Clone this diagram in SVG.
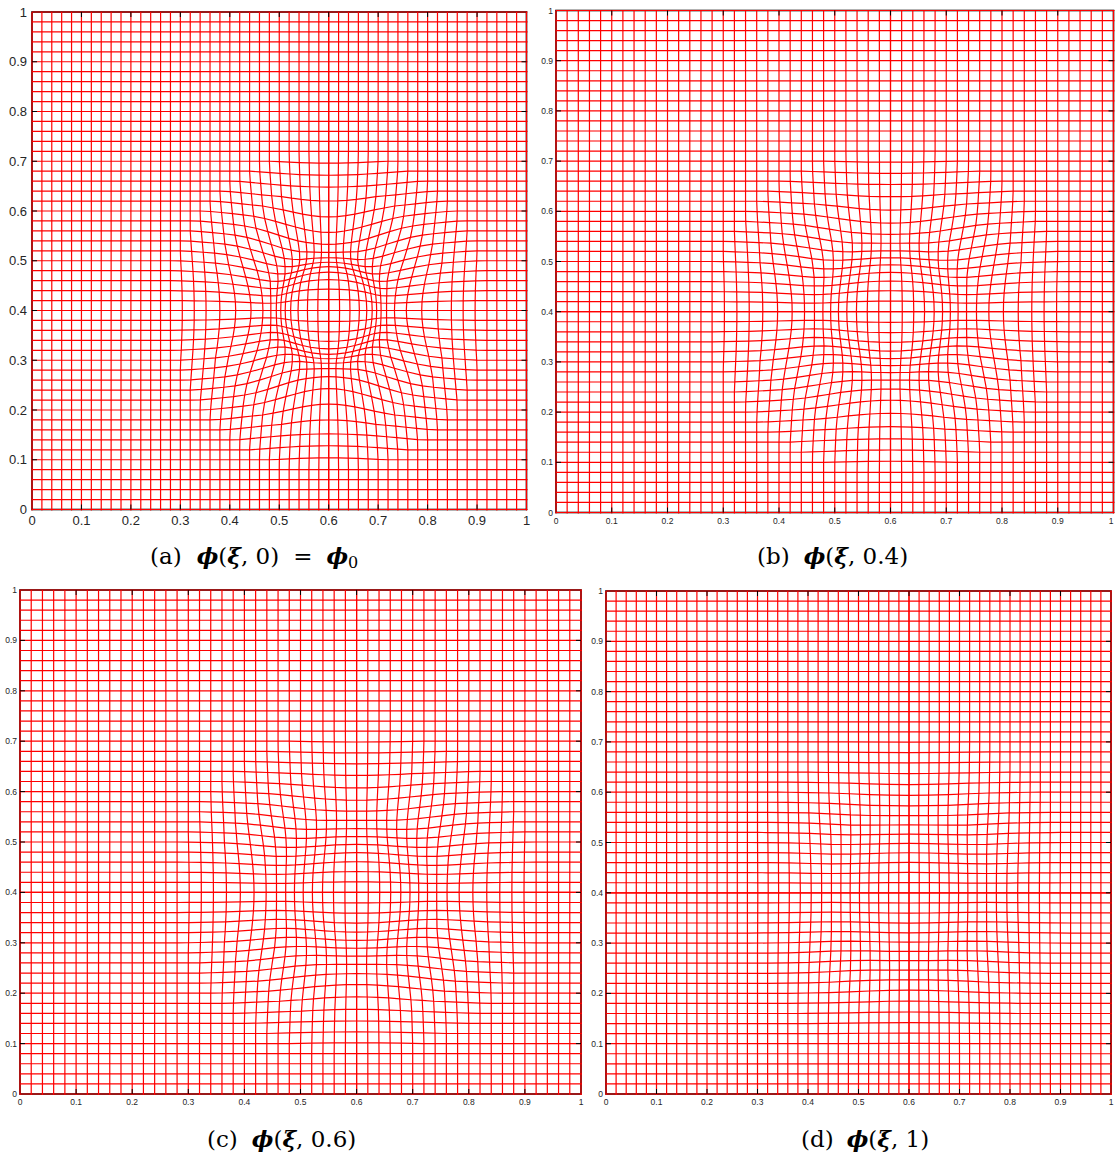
<svg xmlns="http://www.w3.org/2000/svg" width="1115" height="1156" viewBox="0 0 1115 1156">
<style>
.frame{fill:none;stroke:#000;stroke-width:1.6}
.tick{fill:none;stroke:#000;stroke-width:1}
.tl{font-family:"Liberation Sans",Arial,sans-serif;fill:#262626}
.ta{font-size:13px}
.ts{font-size:8.5px}
.xl{text-anchor:middle}
.yl{text-anchor:end}
.cap{font-family:"DejaVu Serif","Liberation Serif",serif;font-size:23px;fill:#000}
.m{font-weight:bold;font-style:italic}
</style>
<defs>
<clipPath id="ca"><rect x="31" y="11" width="496.5" height="499.5"/></clipPath>
<clipPath id="cb"><rect x="555" y="9.5" width="559.5" height="504"/></clipPath>
<clipPath id="cc"><rect x="19" y="589" width="563" height="506"/></clipPath>
<clipPath id="cd"><rect x="605" y="590" width="507" height="505"/></clipPath>
<path id="Ha" fill="none" stroke="#ff0000" stroke-width="1.2" vector-effect="non-scaling-stroke" d="M0 0H600M0 320H600M0 340H600M0 360H600M0 380H600M0 400H600M0 420H600M0 440H600M0 460H600M0 480H600M0 500H600M0 520H600M0 540H600M0 560H600M0 580H600M0 600H600
M0 22 21.8 21.8 42.6 21.3 61.3 20.4 76.2 19.1 87.3 17.5 96.5 16.1 105.7 15.1 117 14.6 133.5 14.8 157.7 15.8 188.7 17.2 220.5 18.4 248.2 19.1 272 19.4 296.2 19.7 320 20H600
M0 43 21.3 42.6 41.6 41.6 59.4 39.6 73.9 37 85.2 34.1 95 31.7 104.9 30 117.3 29.3 134.8 30 159.8 32 190.6 34.6 221.5 36.9 248.7 38.3 272.5 38.9 296.6 39.5 320 40H600
M0 62 20.4 61.3 39.6 59.4 56.6 56.6 70.4 52.8 82 49.2 92.6 46.3 103.7 44.5 117.7 44.1 137.1 45.7 163.2 48.9 193.6 52.8 223.4 55.8 249.5 57.6 273.3 58.6 297.3 59.5 320 60H600
M0 77 19.1 76.2 37 73.9 52.8 70.4 66.6 66.6 78.7 63 90.2 60.1 102.4 58.5 118.2 59.1 140.1 62.2 167.8 67.1 197.7 71.9 225.8 75.3 250.7 77.1 274.4 78.4 298.1 79.5 320 80H600
M0 88 17.5 87.3 34.1 85.2 49.2 82 63 78.7 75.5 75.5 88.3 73.6 103 73.6 121.4 75.9 145 80.6 173.2 86.6 202.4 92 229 95.4 252.1 97 275.8 98.5 299.3 99.8 320 100H600
M0 97 16.1 96.5 31.7 95 46.3 92.6 60.1 90.2 73.6 88.3 88.2 88.2 104.9 89.9 125.6 94.2 151.6 101.1 179.2 107.5 206.1 112.4 230.7 115.3 253.8 117.1 277.2 118.8 300 120H600
M0 106 15.1 105.7 30 105 44.5 103.7 58.5 102.4 73.6 103 89.9 104.9 109.3 109.3 132.7 116.1 158.4 123.2 184.9 129.5 210 133.6 232.6 135.7 255.6 137.6 278.7 139.4 300 140H600
M0 117 14.6 117 29.3 117.3 44.1 117.7 59.1 118.2 75.9 121.4 94.2 125.6 116.1 132.7 139.9 139.9 165.3 147 189.4 151.5 212.1 154.3 234.7 156.4 257.5 158.5 280 160H600
M0 133 14.8 133.5 30 134.8 45.7 137.1 62.2 140.1 80.6 145 101.1 151.6 123.2 158.4 147 165.3 169.9 169.9 192.3 173.1 214.4 175.4 236.9 177.7 259.4 179.6 280 180H600
M0 157 15.8 157.7 32 159.8 48.9 163.2 67.1 167.8 86.6 173.2 107.5 179.2 129.5 184.9 151.5 189.4 173.1 192.3 194.7 194.7 216.7 197 238.8 199 260 200H600
M0 188.1 17.2 188.7 34.6 190.6 52.8 193.6 71.9 197.7 92 202.4 112.4 206.1 133.6 210 154.3 212.1 175.4 214.4 197 216.7 218.7 218.7 240 220H600
M0 220.1 18.4 220.5 36.9 221.5 55.8 223.4 75.3 225.8 95.4 229 115.3 230.7 135.7 232.6 156.4 234.7 177.7 236.9 199 238.8 220 240H600
M0 248 19.1 248.2 38.3 248.7 57.6 249.5 77.1 250.7 97 252.1 117.1 253.8 137.6 255.6 158.5 257.5 179.6 259.4 200 260H600
M0 271.9 19.4 272 38.9 272.5 58.6 273.3 78.4 274.4 98.5 275.8 118.8 277.2 139.4 278.7 160 280H600
M0 296.1 19.7 296.2 39.5 296.6 59.5 297.3 79.5 298.1 99.8 299.3 120 300H600"/>
<path id="Hb" fill="none" stroke="#ff0000" stroke-width="1.2" vector-effect="non-scaling-stroke" d="M0 0H600M0 320H600M0 340H600M0 360H600M0 380H600M0 400H600M0 420H600M0 440H600M0 460H600M0 480H600M0 500H600M0 520H600M0 540H600M0 560H600M0 580H600M0 600H600
M0 21.1 21 21 41.4 20.7 60.7 20.2 77.9 19.5 93 18.6 107.1 17.9 121.1 17.3 136.3 17 154.4 17.1 176.7 17.7 202.8 18.5 229.3 19.1 253.5 19.5 275.6 19.7 297.9 19.8 320 20H600
M0 41.7 20.7 41.4 40.9 40.9 59.7 39.8 76.6 38.4 91.9 36.8 106.3 35.4 120.7 34.5 136.5 34.1 155.1 34.5 177.9 35.6 203.8 37 229.8 38.3 253.8 39.1 275.9 39.4 298.1 39.7 320 40H600
M0 61.1 20.2 60.7 39.8 59.7 58.1 58.1 74.7 56 90.1 54.1 104.9 52.5 120 51.5 136.7 51.3 156.4 52.1 179.8 53.9 205.5 56 230.9 57.7 254.2 58.7 276.3 59.2 298.5 59.7 320 60H600
M0 78.4 19.5 77.9 38.4 76.6 56 74.7 72.6 72.6 88.3 70.7 103.6 69.1 119.3 68.2 137 68.5 158.1 70.2 182.3 72.9 207.7 75.5 232.2 77.4 254.9 78.4 276.9 79.1 299 79.7 320 80H600
M0 93.4 18.6 93 36.8 91.9 54.1 90.1 70.7 88.3 86.5 86.5 102.6 85.5 119.7 85.5 138.8 86.7 160.8 89.3 185.3 92.6 210.3 95.6 234 97.5 255.7 98.4 277.7 99.2 299.6 99.9 320 100H600
M0 107.4 17.9 107.1 35.4 106.3 52.5 104.9 69.1 103.6 85.5 102.6 102.5 102.5 120.7 103.4 141.1 105.8 164.4 109.6 188.6 113.1 212.4 115.8 234.9 117.4 256.6 118.4 278.5 119.3 300 120H600
M0 121.3 17.3 121.1 34.5 120.8 51.5 120 68.2 119.3 85.5 119.7 103.4 120.7 123.1 123.1 145 126.9 168.1 130.8 191.7 134.2 214.5 136.5 235.9 137.6 257.6 138.7 279.3 139.7 300 140H600
M0 136.4 17 136.4 34.1 136.5 51.3 136.7 68.5 137 86.7 138.8 105.8 141.1 126.9 145 148.9 148.9 171.9 152.9 194.2 155.3 215.7 156.9 237.1 158 258.6 159.2 280 160H600
M0 154.2 17.1 154.4 34.5 155.1 52.1 156.4 70.2 158.1 89.3 160.8 109.6 164.4 130.8 168.1 152.9 171.9 174.4 174.4 195.8 176.2 216.9 177.5 238.3 178.7 259.7 179.8 280 180H600
M0 176.4 17.7 176.7 35.6 177.9 53.9 179.8 72.9 182.3 92.6 185.3 113.1 188.6 134.2 191.7 155.3 194.2 176.2 195.8 197.1 197.1 218.2 198.4 239.3 199.5 260 200H600
M0 202.5 18.5 202.8 37 203.8 56 205.5 75.5 207.7 95.6 210.3 115.8 212.4 136.5 214.5 156.9 215.7 177.5 216.9 198.4 218.2 219.3 219.3 240 220H600
M0 229.1 19.1 229.3 38.3 229.8 57.7 230.9 77.4 232.2 97.5 234 117.4 234.9 137.6 235.9 158 237.1 178.7 238.3 199.5 239.3 220 240H600
M0 253.4 19.5 253.5 39.1 253.8 58.7 254.2 78.4 254.9 98.4 255.7 118.4 256.6 138.7 257.6 159.2 258.6 179.8 259.7 200 260H600
M0 275.5 19.7 275.6 39.4 275.9 59.2 276.3 79.1 276.9 99.2 277.7 119.3 278.5 139.7 279.3 160 280H600
M0 297.9 39.7 298.1 59.7 298.5 79.7 299 99.9 299.6 120 300H600"/>
<path id="Hc" fill="none" stroke="#ff0000" stroke-width="1.2" vector-effect="non-scaling-stroke" d="M0 0H600M0 320H600M0 340H600M0 360H600M0 380H600M0 400H600M0 420H600M0 440H600M0 460H600M0 480H600M0 500H600M0 520H600M0 540H600M0 560H600M0 580H600M0 600H600
M0 20.8 20.7 20.7 41 20.5 60.5 20.2 78.5 19.6 94.9 19 110.6 18.4 126.3 18 142.8 17.8 161.4 17.9 183.1 18.3 207.5 18.9 232.2 19.4 255.3 19.6 276.8 19.8 298.5 19.9 320 20H600
M0 41.2 20.5 41 40.6 40.6 59.8 39.8 77.6 38.8 94.1 37.6 110 36.7 126 36 142.9 35.7 161.9 36 183.9 36.8 208.2 37.8 232.6 38.8 255.5 39.3 277 39.6 298.6 39.8 320 40H600
M0 60.8 20.2 60.5 39.8 59.8 58.6 58.6 76.2 57.1 92.8 55.7 109 54.5 125.5 53.8 143.1 53.6 162.8 54.3 185.3 55.6 209.4 57.1 233.4 58.3 255.8 59 277.3 59.4 298.9 59.8 320 60H600
M0 78.8 19.6 78.5 38.8 77.6 57.1 76.2 74.6 74.6 91.5 73.2 108.1 72 125 71.4 143.3 71.6 164 72.9 187.1 74.8 211.1 76.8 234.3 78.1 256.3 78.8 277.8 79.4 299.2 79.8 320 80H600
M0 95.2 19 94.9 37.6 94.1 55.7 92.8 73.2 91.5 90.2 90.2 107.3 89.4 125.2 89.4 144.6 90.4 166 92.2 189.3 94.6 213 96.8 235.6 98.2 256.8 98.8 278.3 99.4 299.7 99.9 320 100H600
M0 110.8 18.4 110.6 36.7 110 54.5 109 72 108.1 89.4 107.3 107.3 107.3 126 108 146.2 109.7 168.6 112.4 191.7 115 214.4 117 236.3 118.1 257.5 118.8 278.9 119.5 300 120H600
M0 126.4 18 126.3 36 126 53.8 125.5 71.4 125 89.4 125.2 108 126 127.7 127.7 149.1 130.4 171.4 133.3 194 135.8 216 137.4 237 138.3 258.2 139 279.5 139.8 300 140H600
M0 142.8 17.8 142.8 35.7 142.9 53.6 143.1 71.6 143.3 90.4 144.6 109.7 146.2 130.4 149.1 152 152 174.1 154.8 195.8 156.6 216.8 157.7 237.9 158.6 259 159.4 280 160H600
M0 161.2 17.9 161.4 36 161.9 54.3 162.8 72.9 164 92.2 166 112.4 168.6 133.3 171.4 154.8 174.1 176 176 196.9 177.2 217.8 178.2 238.8 179.1 259.8 179.8 280 180H600
M0 182.8 18.3 183.1 36.8 183.9 55.6 185.3 74.8 187.1 94.6 189.3 115 191.7 135.8 194 156.6 195.8 177.2 196.9 197.9 197.9 218.7 198.8 239.5 199.6 260 200H600
M0 207.2 18.9 207.5 37.8 208.2 57.1 209.4 76.8 211.1 96.8 213 117 214.4 137.4 216 157.7 216.8 178.2 217.8 198.8 218.7 219.5 219.5 240 220H600
M0 232 19.4 232.2 38.8 232.6 58.3 233.4 78.1 234.3 98.2 235.6 118.1 236.3 138.3 237 158.6 237.9 179.1 238.8 199.6 239.5 220 240H600
M0 255.2 39.3 255.5 78.8 256.3 118.8 257.5 159.4 259 200 260H600
M0 276.8 39.6 277 79.4 277.8 119.5 278.9 160 280H600
M0 298.4 39.8 298.6 79.8 299.2 120 300H600"/>
<path id="Hd" fill="none" stroke="#ff0000" stroke-width="1.2" vector-effect="non-scaling-stroke" d="M0 0H600M0 320H600M0 340H600M0 360H600M0 380H600M0 400H600M0 420H600M0 440H600M0 460H600M0 480H600M0 500H600M0 520H600M0 540H600M0 560H600M0 580H600M0 600H600
M0 20.3 40.4 20.2 79.4 19.9 116.5 19.4 153.6 19.2 193.7 19.4 237.1 19.8 278.8 19.9 320 20H600
M0 40.5 40.2 40.2 79.1 39.6 116.3 38.8 153.6 38.4 194 38.8 237.2 39.5 278.9 39.8 320 40H600
M0 60.3 39.9 59.9 78.6 58.9 115.9 57.9 153.7 57.6 194.5 58.3 237.5 59.4 279 59.8 320 60H600
M0 79.6 39.6 79.1 78 78 115.5 77 153.7 76.9 195.2 78.1 237.9 79.3 279.2 79.8 320 80H600
M0 98.2 39.1 97.8 77.5 96.8 115.2 96 154.2 96.4 196 98 238.4 99.3 279.4 99.8 320 100H600
M0 116.6 38.8 116.3 77 115.5 115.2 115.2 154.8 116.1 196.9 118.1 238.6 119.3 279.6 119.8 300 120H600
M0 134.9 38.5 134.8 76.8 134.4 115.5 134.7 155.9 136.4 197.7 138.4 238.9 139.4 279.8 139.9 300 140H600
M0 153.6 38.4 153.6 76.9 153.7 116.1 154.8 157 157 198.4 158.7 239.2 159.5 280 160H600
M0 173 38.5 173.2 77.3 174 117.2 175.7 158.1 177.8 198.8 179 239.5 179.7 280 180H600
M0 193.6 38.8 194 78.1 195.2 118.1 196.9 158.7 198.4 199.2 199.2 239.8 199.9 260 200H600
M0 215.2 39.2 215.6 78.8 216.7 118.9 217.9 159.1 218.8 199.6 219.5 240 220H600
M0 237 39.5 237.2 79.3 237.9 119.3 238.6 159.5 239.2 199.9 239.8 220 240H600
M0 258.2 79.6 258.6 159.8 259.6 200 260H600
M0 278.8 79.8 279.2 160 280H600
M0 299.4 120 300H600"/>
</defs>
<rect width="1115" height="1156" fill="#fff"/>

<g id="panel-a">
<rect class="frame" x="32" y="12" width="494.5" height="497.5"/>
<g clip-path="url(#ca)">
<g transform="translate(328.7 310.5) scale(0.4945 0.4975)">
<use href="#Ha"/><use href="#Ha" transform="scale(-1 1)"/><use href="#Ha" transform="scale(1 -1)"/><use href="#Ha" transform="scale(-1 -1)"/>
<use href="#Ha" transform="matrix(0 1 1 0 0 0)"/><use href="#Ha" transform="matrix(0 1 -1 0 0 0)"/><use href="#Ha" transform="matrix(0 -1 1 0 0 0)"/><use href="#Ha" transform="matrix(0 -1 -1 0 0 0)"/>
</g>
</g>
<path class="tick" d="M81.45 509.5v-5M130.9 509.5v-5M180.35 509.5v-5M229.8 509.5v-5M279.25 509.5v-5M328.7 509.5v-5M378.15 509.5v-5M427.6 509.5v-5M477.05 509.5v-5M81.45 12v5M130.9 12v5M180.35 12v5M229.8 12v5M279.25 12v5M328.7 12v5M378.15 12v5M427.6 12v5M477.05 12v5M32 459.75h5M32 410h5M32 360.25h5M32 310.5h5M32 260.75h5M32 211h5M32 161.25h5M32 111.5h5M32 61.75h5M526.5 459.75h-5M526.5 410h-5M526.5 360.25h-5M526.5 310.5h-5M526.5 260.75h-5M526.5 211h-5M526.5 161.25h-5M526.5 111.5h-5M526.5 61.75h-5"/>
<g class="tl ta xl">
<text x="32" y="525">0</text><text x="81.45" y="525">0.1</text><text x="130.9" y="525">0.2</text><text x="180.35" y="525">0.3</text><text x="229.8" y="525">0.4</text><text x="279.25" y="525">0.5</text><text x="328.7" y="525">0.6</text><text x="378.15" y="525">0.7</text><text x="427.6" y="525">0.8</text><text x="477.05" y="525">0.9</text><text x="526.5" y="525">1</text>
</g>
<g class="tl ta yl">
<text x="27" y="514">0</text><text x="27" y="464.25">0.1</text><text x="27" y="414.5">0.2</text><text x="27" y="364.75">0.3</text><text x="27" y="315">0.4</text><text x="27" y="265.25">0.5</text><text x="27" y="215.5">0.6</text><text x="27" y="165.75">0.7</text><text x="27" y="116">0.8</text><text x="27" y="66.25">0.9</text><text x="27" y="16.5">1</text>
</g>
<text class="cap" x="150" y="564">(a)<tspan dx="15" class="m">ϕ</tspan>(<tspan class="m">ξ</tspan>, 0)<tspan dx="14">=</tspan><tspan dx="14" class="m">ϕ</tspan><tspan font-size="16" dy="4">0</tspan></text>
</g>

<g id="panel-b">
<rect class="frame" x="556" y="10.5" width="557.5" height="502"/>
<g clip-path="url(#cb)">
<g transform="translate(890.5 311.7) scale(0.5575 0.502)">
<use href="#Hb"/><use href="#Hb" transform="scale(-1 1)"/><use href="#Hb" transform="scale(1 -1)"/><use href="#Hb" transform="scale(-1 -1)"/>
<use href="#Hb" transform="matrix(0 1 1 0 0 0)"/><use href="#Hb" transform="matrix(0 1 -1 0 0 0)"/><use href="#Hb" transform="matrix(0 -1 1 0 0 0)"/><use href="#Hb" transform="matrix(0 -1 -1 0 0 0)"/>
</g>
</g>
<path class="tick" d="M611.75 512.5v-5M667.5 512.5v-5M723.25 512.5v-5M779 512.5v-5M834.75 512.5v-5M890.5 512.5v-5M946.25 512.5v-5M1002 512.5v-5M1057.75 512.5v-5M611.75 10.5v5M667.5 10.5v5M723.25 10.5v5M779 10.5v5M834.75 10.5v5M890.5 10.5v5M946.25 10.5v5M1002 10.5v5M1057.75 10.5v5M556 462.3h5M556 412.1h5M556 361.9h5M556 311.7h5M556 261.5h5M556 211.3h5M556 161.1h5M556 110.9h5M556 60.7h5M1113.5 462.3h-5M1113.5 412.1h-5M1113.5 361.9h-5M1113.5 311.7h-5M1113.5 261.5h-5M1113.5 211.3h-5M1113.5 161.1h-5M1113.5 110.9h-5M1113.5 60.7h-5"/>
<g class="tl ts xl">
<text x="556" y="524">0</text><text x="611.75" y="524">0.1</text><text x="667.5" y="524">0.2</text><text x="723.25" y="524">0.3</text><text x="779" y="524">0.4</text><text x="834.75" y="524">0.5</text><text x="890.5" y="524">0.6</text><text x="946.25" y="524">0.7</text><text x="1002" y="524">0.8</text><text x="1057.75" y="524">0.9</text><text x="1111" y="524">1</text>
</g>
<g class="tl ts yl">
<text x="553" y="515.5">0</text><text x="553" y="465.3">0.1</text><text x="553" y="415.1">0.2</text><text x="553" y="364.9">0.3</text><text x="553" y="314.7">0.4</text><text x="553" y="264.5">0.5</text><text x="553" y="214.3">0.6</text><text x="553" y="164.1">0.7</text><text x="553" y="113.9">0.8</text><text x="553" y="63.7">0.9</text><text x="553" y="13.5">1</text>
</g>
<text class="cap" x="757" y="564">(b)<tspan dx="14" class="m">ϕ</tspan>(<tspan class="m">ξ</tspan>, 0.4)</text>
</g>

<g id="panel-c">
<rect class="frame" x="20" y="590" width="561" height="504"/>
<g clip-path="url(#cc)">
<g transform="translate(356.6 892.4) scale(0.561 0.504)">
<use href="#Hc"/><use href="#Hc" transform="scale(-1 1)"/><use href="#Hc" transform="scale(1 -1)"/><use href="#Hc" transform="scale(-1 -1)"/>
<use href="#Hc" transform="matrix(0 1 1 0 0 0)"/><use href="#Hc" transform="matrix(0 1 -1 0 0 0)"/><use href="#Hc" transform="matrix(0 -1 1 0 0 0)"/><use href="#Hc" transform="matrix(0 -1 -1 0 0 0)"/>
</g>
</g>
<path class="tick" d="M76.1 1094v-5M132.2 1094v-5M188.3 1094v-5M244.4 1094v-5M300.5 1094v-5M356.6 1094v-5M412.7 1094v-5M468.8 1094v-5M524.9 1094v-5M76.1 590v5M132.2 590v5M188.3 590v5M244.4 590v5M300.5 590v5M356.6 590v5M412.7 590v5M468.8 590v5M524.9 590v5M20 1043.6h5M20 993.2h5M20 942.8h5M20 892.4h5M20 842h5M20 791.6h5M20 741.2h5M20 690.8h5M20 640.4h5M581 1043.6h-5M581 993.2h-5M581 942.8h-5M581 892.4h-5M581 842h-5M581 791.6h-5M581 741.2h-5M581 690.8h-5M581 640.4h-5"/>
<g class="tl ts xl">
<text x="20" y="1105">0</text><text x="76.1" y="1105">0.1</text><text x="132.2" y="1105">0.2</text><text x="188.3" y="1105">0.3</text><text x="244.4" y="1105">0.4</text><text x="300.5" y="1105">0.5</text><text x="356.6" y="1105">0.6</text><text x="412.7" y="1105">0.7</text><text x="468.8" y="1105">0.8</text><text x="524.9" y="1105">0.9</text><text x="581" y="1105">1</text>
</g>
<g class="tl ts yl">
<text x="17" y="1097">0</text><text x="17" y="1046.6">0.1</text><text x="17" y="996.2">0.2</text><text x="17" y="945.8">0.3</text><text x="17" y="895.4">0.4</text><text x="17" y="845">0.5</text><text x="17" y="794.6">0.6</text><text x="17" y="744.2">0.7</text><text x="17" y="693.8">0.8</text><text x="17" y="643.4">0.9</text><text x="17" y="593">1</text>
</g>
<text class="cap" x="207" y="1147">(c)<tspan dx="14" class="m">ϕ</tspan>(<tspan class="m">ξ</tspan>, 0.6)</text>
</g>

<g id="panel-d">
<rect class="frame" x="606" y="591" width="505" height="503"/>
<g clip-path="url(#cd)">
<g transform="translate(909 892.8) scale(0.505 0.503)">
<use href="#Hd"/><use href="#Hd" transform="scale(-1 1)"/><use href="#Hd" transform="scale(1 -1)"/><use href="#Hd" transform="scale(-1 -1)"/>
<use href="#Hd" transform="matrix(0 1 1 0 0 0)"/><use href="#Hd" transform="matrix(0 1 -1 0 0 0)"/><use href="#Hd" transform="matrix(0 -1 1 0 0 0)"/><use href="#Hd" transform="matrix(0 -1 -1 0 0 0)"/>
</g>
</g>
<path class="tick" d="M656.5 1094v-5M707 1094v-5M757.5 1094v-5M808 1094v-5M858.5 1094v-5M909 1094v-5M959.5 1094v-5M1010 1094v-5M1060.5 1094v-5M656.5 591v5M707 591v5M757.5 591v5M808 591v5M858.5 591v5M909 591v5M959.5 591v5M1010 591v5M1060.5 591v5M606 1043.7h5M606 993.4h5M606 943.1h5M606 892.8h5M606 842.5h5M606 792.2h5M606 741.9h5M606 691.6h5M606 641.3h5M1111 1043.7h-5M1111 993.4h-5M1111 943.1h-5M1111 892.8h-5M1111 842.5h-5M1111 792.2h-5M1111 741.9h-5M1111 691.6h-5M1111 641.3h-5"/>
<g class="tl ts xl">
<text x="606" y="1105">0</text><text x="656.5" y="1105">0.1</text><text x="707" y="1105">0.2</text><text x="757.5" y="1105">0.3</text><text x="808" y="1105">0.4</text><text x="858.5" y="1105">0.5</text><text x="909" y="1105">0.6</text><text x="959.5" y="1105">0.7</text><text x="1010" y="1105">0.8</text><text x="1060.5" y="1105">0.9</text><text x="1111" y="1105">1</text>
</g>
<g class="tl ts yl">
<text x="603" y="1097">0</text><text x="603" y="1046.7">0.1</text><text x="603" y="996.4">0.2</text><text x="603" y="946.1">0.3</text><text x="603" y="895.8">0.4</text><text x="603" y="845.5">0.5</text><text x="603" y="795.2">0.6</text><text x="603" y="744.9">0.7</text><text x="603" y="694.6">0.8</text><text x="603" y="644.3">0.9</text><text x="603" y="594">1</text>
</g>
<text class="cap" x="801" y="1147">(d)<tspan dx="13" class="m">ϕ</tspan>(<tspan class="m">ξ</tspan>, 1)</text>
</g>
</svg>
